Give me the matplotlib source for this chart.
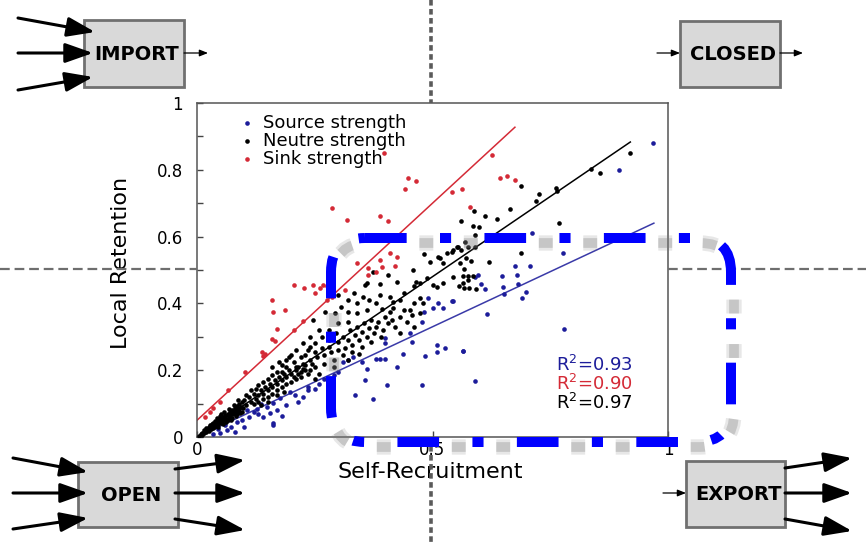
import numpy as np
import matplotlib
matplotlib.use('Agg')
import matplotlib.pyplot as plt
from matplotlib.patches import Rectangle, FancyBboxPatch, FancyArrowPatch

plt.rcParams['font.family'] = ['DejaVu Sans']
plt.rcParams['lines.scale_dashes'] = False

W, H = 866, 545

# scatter data (self-recruitment, local retention)
red_pts = [(0.396,0.849),(0.449,0.775),(0.464,0.765),(0.442,0.743),(0.286,0.687),(0.318,0.650),
           (0.389,0.662),(0.406,0.648),(0.541,0.735),(0.562,0.743),(0.580,0.690),(0.626,0.844),
           (0.644,0.776),(0.658,0.781),(0.675,0.768),(0.410,0.550),(0.424,0.540),(0.339,0.522),
           (0.364,0.505),(0.389,0.530),(0.392,0.510),(0.381,0.495),(0.364,0.485),(0.420,0.512),
           (0.205,0.455),(0.247,0.455),(0.275,0.452),(0.261,0.445),(0.251,0.431),(0.268,0.455),
           (0.314,0.440),(0.159,0.410),(0.162,0.375),(0.187,0.380),(0.226,0.348),(0.205,0.320),
           (0.169,0.322),(0.159,0.292),(0.166,0.288),(0.137,0.255),(0.144,0.250),(0.140,0.243),
           (0.102,0.196),(0.066,0.141),(0.049,0.106),(0.035,0.086),(0.028,0.075),(0.017,0.061),
           (0.275,0.410),(0.286,0.420),(0.228,0.445)]

blue_pts = [(0.969,0.879),(0.896,0.799),(0.711,0.612),(0.778,0.550),(0.675,0.513),(0.707,0.513),
            (0.597,0.485),(0.590,0.478),(0.647,0.483),(0.679,0.484),(0.602,0.458),(0.649,0.448),
            (0.682,0.458),(0.611,0.442),(0.543,0.408),(0.652,0.428),(0.689,0.417),(0.699,0.435),
            (0.616,0.368),(0.779,0.322),(0.564,0.257),(0.590,0.168),(0.491,0.415),(0.512,0.400),
            (0.541,0.408),(0.481,0.375),(0.502,0.385),(0.523,0.385),(0.477,0.345),(0.452,0.310),
            (0.399,0.296),(0.399,0.280),(0.456,0.285),(0.509,0.275),(0.527,0.265),(0.509,0.255),
            (0.484,0.243),(0.565,0.258),(0.438,0.248),(0.379,0.233),(0.389,0.233),(0.400,0.235),
            (0.424,0.209),(0.350,0.225),(0.360,0.203),(0.332,0.240),(0.321,0.230),(0.311,0.224),
            (0.357,0.171),(0.403,0.156),(0.477,0.156),(0.335,0.126),(0.374,0.113),(0.258,0.160),
            (0.236,0.151),(0.236,0.140),(0.208,0.126),(0.176,0.116),(0.198,0.135),(0.162,0.101),
            (0.148,0.091),(0.180,0.063),(0.162,0.041),(0.162,0.035),(0.141,0.059),(0.120,0.076),
            (0.106,0.080),(0.127,0.085),(0.081,0.016),(0.063,0.021),(0.049,0.013),(0.035,0.010),
            (0.095,0.051),(0.072,0.030),(0.110,0.060),(0.085,0.045),(0.130,0.070),(0.060,0.035),
            (0.045,0.025),(0.100,0.030),(0.270,0.175),(0.290,0.185),(0.225,0.120),(0.300,0.195),
            (0.250,0.145),(0.215,0.105),(0.190,0.095),(0.170,0.080),(0.155,0.072),(0.135,0.100)]

black_pts = [(0.919,0.849),(0.836,0.802),(0.856,0.790),(0.688,0.752),(0.727,0.729),(0.762,0.747),
             (0.765,0.737),(0.719,0.707),(0.665,0.682),(0.588,0.678),(0.611,0.662),(0.638,0.652),
             (0.560,0.648),(0.585,0.632),(0.599,0.630),(0.768,0.640),(0.590,0.605),(0.576,0.570),
             (0.560,0.560),(0.590,0.570),(0.687,0.550),(0.582,0.528),(0.620,0.525),(0.567,0.503),
             (0.565,0.482),(0.575,0.482),(0.585,0.482),(0.575,0.470),(0.541,0.555),(0.551,0.570),
             (0.566,0.445),(0.481,0.547),(0.512,0.540),(0.516,0.535),(0.530,0.550),(0.544,0.560),
             (0.554,0.570),(0.569,0.585),(0.495,0.525),(0.523,0.520),(0.558,0.520),(0.572,0.535),
             (0.459,0.500),(0.406,0.485),(0.424,0.465),(0.374,0.495),(0.360,0.460),(0.466,0.465),
             (0.489,0.475),(0.544,0.480),(0.509,0.450),(0.565,0.462),
             (0.357,0.455),(0.389,0.458),(0.460,0.452),(0.474,0.462),(0.502,0.455),(0.523,0.462),
             (0.557,0.452),(0.578,0.447),(0.592,0.442),(0.389,0.425),(0.353,0.420),(0.300,0.425),
             (0.334,0.430),(0.417,0.405),(0.431,0.410),(0.460,0.400),(0.474,0.415),(0.392,0.382),
             (0.410,0.375),(0.417,0.385),(0.452,0.380),(0.456,0.365),(0.474,0.370),(0.360,0.380),
             (0.339,0.370),(0.306,0.390),(0.320,0.375),(0.292,0.370),(0.271,0.375),(0.247,0.350),
             (0.250,0.280),(0.265,0.300),(0.280,0.290),(0.295,0.310),(0.310,0.300),(0.325,0.320),
             (0.340,0.330),(0.355,0.340),(0.370,0.350),(0.385,0.345),(0.400,0.360),(0.415,0.350),
             (0.430,0.360),(0.445,0.345),(0.460,0.330),(0.420,0.330),(0.395,0.320),(0.375,0.310),
             (0.360,0.300),(0.345,0.290),(0.330,0.275),(0.315,0.265),(0.300,0.260),(0.285,0.255),
             (0.270,0.245),(0.255,0.240),(0.240,0.230),(0.225,0.220),(0.210,0.210),(0.235,0.260),
             (0.250,0.255),(0.265,0.265),(0.280,0.270),(0.300,0.285),(0.320,0.290),(0.335,0.305),
             (0.350,0.315),(0.365,0.325),(0.380,0.330),(0.405,0.340),(0.390,0.300),(0.370,0.285),
             (0.350,0.270),(0.330,0.255),(0.310,0.245),(0.290,0.230),(0.270,0.220),(0.250,0.210),
             (0.230,0.200),(0.215,0.190),(0.280,0.320),(0.300,0.340),(0.320,0.345),(0.260,0.320),
             (0.240,0.300),(0.225,0.280),(0.210,0.260),(0.195,0.240),(0.290,0.210),(0.320,0.230),
             (0.345,0.250),(0.240,0.270),(0.220,0.240),(0.205,0.225),(0.190,0.210),(0.180,0.195),
             (0.260,0.190),(0.440,0.380),(0.430,0.310),(0.480,0.400),(0.410,0.420),(0.440,0.430),
             (0.340,0.400),(0.320,0.410),(0.380,0.400),(0.365,0.410),
             (0.100,0.110),(0.105,0.095),(0.110,0.120),(0.115,0.105),(0.120,0.130),(0.125,0.115),
             (0.130,0.125),(0.135,0.140),(0.140,0.130),(0.145,0.150),(0.150,0.140),(0.155,0.160),
             (0.160,0.150),(0.165,0.170),(0.170,0.160),(0.175,0.180),(0.180,0.170),(0.185,0.190),
             (0.190,0.180),(0.195,0.200),(0.200,0.190),(0.205,0.180),(0.210,0.200),(0.215,0.210),
             (0.220,0.195),(0.225,0.205),(0.230,0.215),(0.235,0.190),(0.240,0.200),(0.245,0.220),
             (0.120,0.100),(0.130,0.105),(0.140,0.115),(0.150,0.120),(0.160,0.130),(0.170,0.140),
             (0.180,0.150),(0.190,0.160),(0.200,0.165),(0.210,0.175),(0.220,0.180),(0.140,0.165),
             (0.150,0.175),(0.160,0.185),(0.170,0.195),(0.180,0.215),(0.190,0.230),(0.200,0.245),
             (0.160,0.210),(0.130,0.155),(0.115,0.140),(0.105,0.125),(0.125,0.145),(0.175,0.225),
             (0.230,0.245),(0.250,0.175),(0.170,0.125),(0.185,0.135),(0.150,0.105),(0.135,0.095),
             (0.005,0.004),(0.008,0.009),(0.010,0.007),(0.012,0.013),(0.015,0.011),(0.018,0.017),
             (0.020,0.014),(0.022,0.021),(0.025,0.019),(0.027,0.026),(0.030,0.024),(0.030,0.032),
             (0.033,0.028),(0.035,0.036),(0.037,0.030),(0.040,0.040),(0.040,0.033),(0.043,0.045),
             (0.045,0.038),(0.047,0.050),(0.050,0.042),(0.050,0.055),(0.053,0.048),(0.055,0.060),
             (0.057,0.052),(0.060,0.058),(0.060,0.066),(0.063,0.055),(0.065,0.070),(0.067,0.061),
             (0.070,0.065),(0.070,0.076),(0.073,0.070),(0.075,0.082),(0.077,0.068),(0.080,0.075),
             (0.080,0.088),(0.083,0.080),(0.085,0.092),(0.087,0.078),(0.090,0.085),(0.090,0.098),
             (0.093,0.090),(0.095,0.104),(0.097,0.088),(0.015,0.020),(0.025,0.030),(0.035,0.042),
             (0.045,0.030),(0.055,0.040),(0.065,0.050),(0.075,0.058),(0.085,0.068),(0.095,0.075),
             (0.020,0.026),(0.038,0.048),(0.058,0.074),(0.078,0.095),(0.062,0.045),(0.072,0.052),
             (0.082,0.062),(0.092,0.072),(0.010,0.012),(0.028,0.036),(0.048,0.062),(0.068,0.085),
             (0.088,0.110),(0.042,0.056),(0.052,0.068),(0.032,0.040)]

# regression lines: (slope, intercept, x end)
fits = {'red': (1.30, 0.05, 0.675), 'black': (0.96, 0.0, 0.92), 'blue': (0.66, 0.0, 0.97)}
r2_labels = ['R$^2$=0.93', 'R$^2$=0.90', 'R$^2$=0.97']

c_red = '#d42a36'
c_blue = '#1c1c9a'
c_line_blue = '#3a3aa8'

fig = plt.figure(figsize=(W / 100, H / 100), dpi=100)

# ---- main scatter plot ----
ax = fig.add_axes([197 / W, 1 - 437 / H, 471 / W, 334 / H])
for pts, col, lab in [(blue_pts, c_blue, 'Source strength'),
                      (black_pts, 'black', 'Neutre strength'),
                      (red_pts, c_red, 'Sink strength')]:
    xs, ys = zip(*pts)
    ax.scatter(xs, ys, s=11, color=col, linewidths=0, label=lab, zorder=3)

for key, col in [('red', c_red), ('black', 'black'), ('blue', c_line_blue)]:
    m, b, xe = fits[key]
    xx = np.array([0, xe])
    ax.plot(xx, m * xx + b, color=col, lw=1.1, zorder=2)

ax.set_xlim(0, 1)
ax.set_ylim(0, 1)
ax.set_xticks([0, 0.5, 1])
ax.set_xticklabels(['0', '0.5', '1'])
ax.set_yticks(np.round(np.arange(0, 1.01, 0.1), 1))
ax.set_yticklabels(['0', '', '0.2', '', '0.4', '', '0.6', '', '0.8', '', '1'])
ax.tick_params(direction='in', length=4, width=1, color='#444444', labelsize=12)
ax.tick_params(axis='y', pad=10)
ax.tick_params(axis='x', pad=3)
for sp in ax.spines.values():
    sp.set_color('#555555')
    sp.set_linewidth(1.1)

ax.set_xlabel('Self-Recruitment', fontsize=16)
ax.set_ylabel('Local Retention', fontsize=16)
ax.xaxis.set_label_coords(0.495, -0.075)
ax.yaxis.set_label_coords(-0.14, 0.52)

leg = ax.legend(loc='upper left', bbox_to_anchor=(0.065, 1.0), frameon=False, fontsize=13,
                handletextpad=0.35, handlelength=1.0, labelspacing=0.0, borderaxespad=0.2)

for i, (txt, col) in enumerate(zip(r2_labels, [c_blue, c_red, 'black'])):
    ax.text(0.762, 0.216 - i * 0.057, txt, color=col, fontsize=13, va='center', ha='left',
            transform=ax.transAxes)

# ---- diagram overlay in pixel coordinates ----
ov = fig.add_axes([0, 0, 1, 1], zorder=5)
ov.set_xlim(0, W)
ov.set_ylim(H, 0)
ov.axis('off')

# quadrant guides (outside the plot area)
for xs in [(0, 197), (668, W)]:
    ov.plot(xs, [269, 269], color='#6e6e6e', lw=1.6, ls=(0, (7, 3.5)), zorder=1)
for ys in [(0, 103), (437, H)]:
    ov.plot([431, 431], ys, color='#5a5a5a', lw=2.6, ls=(0, (4, 2.5)), zorder=1)

boxes = {'IMPORT': (84, 20, 100, 67), 'CLOSED': (680, 21, 100, 66),
         'OPEN': (78, 462, 100, 65), 'EXPORT': (686, 461, 99, 66)}
for name, (x0, y0, bw, bh) in boxes.items():
    ov.add_patch(Rectangle((x0, y0), bw, bh, fc='#d9d9d9', ec='#707070', lw=2, zorder=2))
    ov.text(x0 + bw / 2 + 3, y0 + bh / 2 + 1, name, fontsize=14, fontweight='bold',
            ha='center', va='center', zorder=3)

big_arrows = [((18, 18), (95, 32)), ((18, 53), (93, 53)), ((18, 90), (93, 77)),
              ((13, 458), (88, 472)), ((13, 493), (88, 493)), ((13, 529), (88, 518)),
              ((175, 469), (245, 460)), ((175, 493), (245, 493)), ((175, 519), (245, 530)),
              ((785, 468), (852, 458)), ((785, 493), (852, 493)), ((785, 519), (852, 531))]
small_arrows = [((184, 53), (208, 53)), ((657, 53), (680, 53)),
                ((780, 53), (803, 53)), ((663, 493), (686, 493))]
for a, b in big_arrows:
    ov.add_patch(FancyArrowPatch(a, b, arrowstyle='-|>,head_length=17,head_width=6',
                                 mutation_scale=1, lw=2.2, color='black',
                                 shrinkA=0, shrinkB=0, zorder=4))
for a, b in small_arrows:
    ov.add_patch(FancyArrowPatch(a, b, arrowstyle='-|>,head_length=5,head_width=2',
                                 mutation_scale=1, lw=0.9, color='black',
                                 shrinkA=0, shrinkB=0, zorder=4))

# highlighted region: blue dash-dot rounded frame with blurred grey shadow
rx, ry, rw, rh = 331, 238, 400, 204
for lw_, al in [(11, 0.18), (7, 0.3)]:
    ov.add_patch(FancyBboxPatch((rx + 3, ry + 5), rw, rh, boxstyle='round,pad=0,rounding_size=34',
                                fill=False, ec='#7a7a7a', lw=lw_, alpha=al,
                                ls=(49, (10, 22, 10, 44)), zorder=6))
ov.add_patch(FancyBboxPatch((rx, ry), rw, rh, boxstyle='round,pad=0,rounding_size=34',
                            fill=False, ec='#0000ff', lw=7.2, ls=(0, (30, 24, 8, 24)), zorder=7))

fig.savefig('out.png', dpi=100)
